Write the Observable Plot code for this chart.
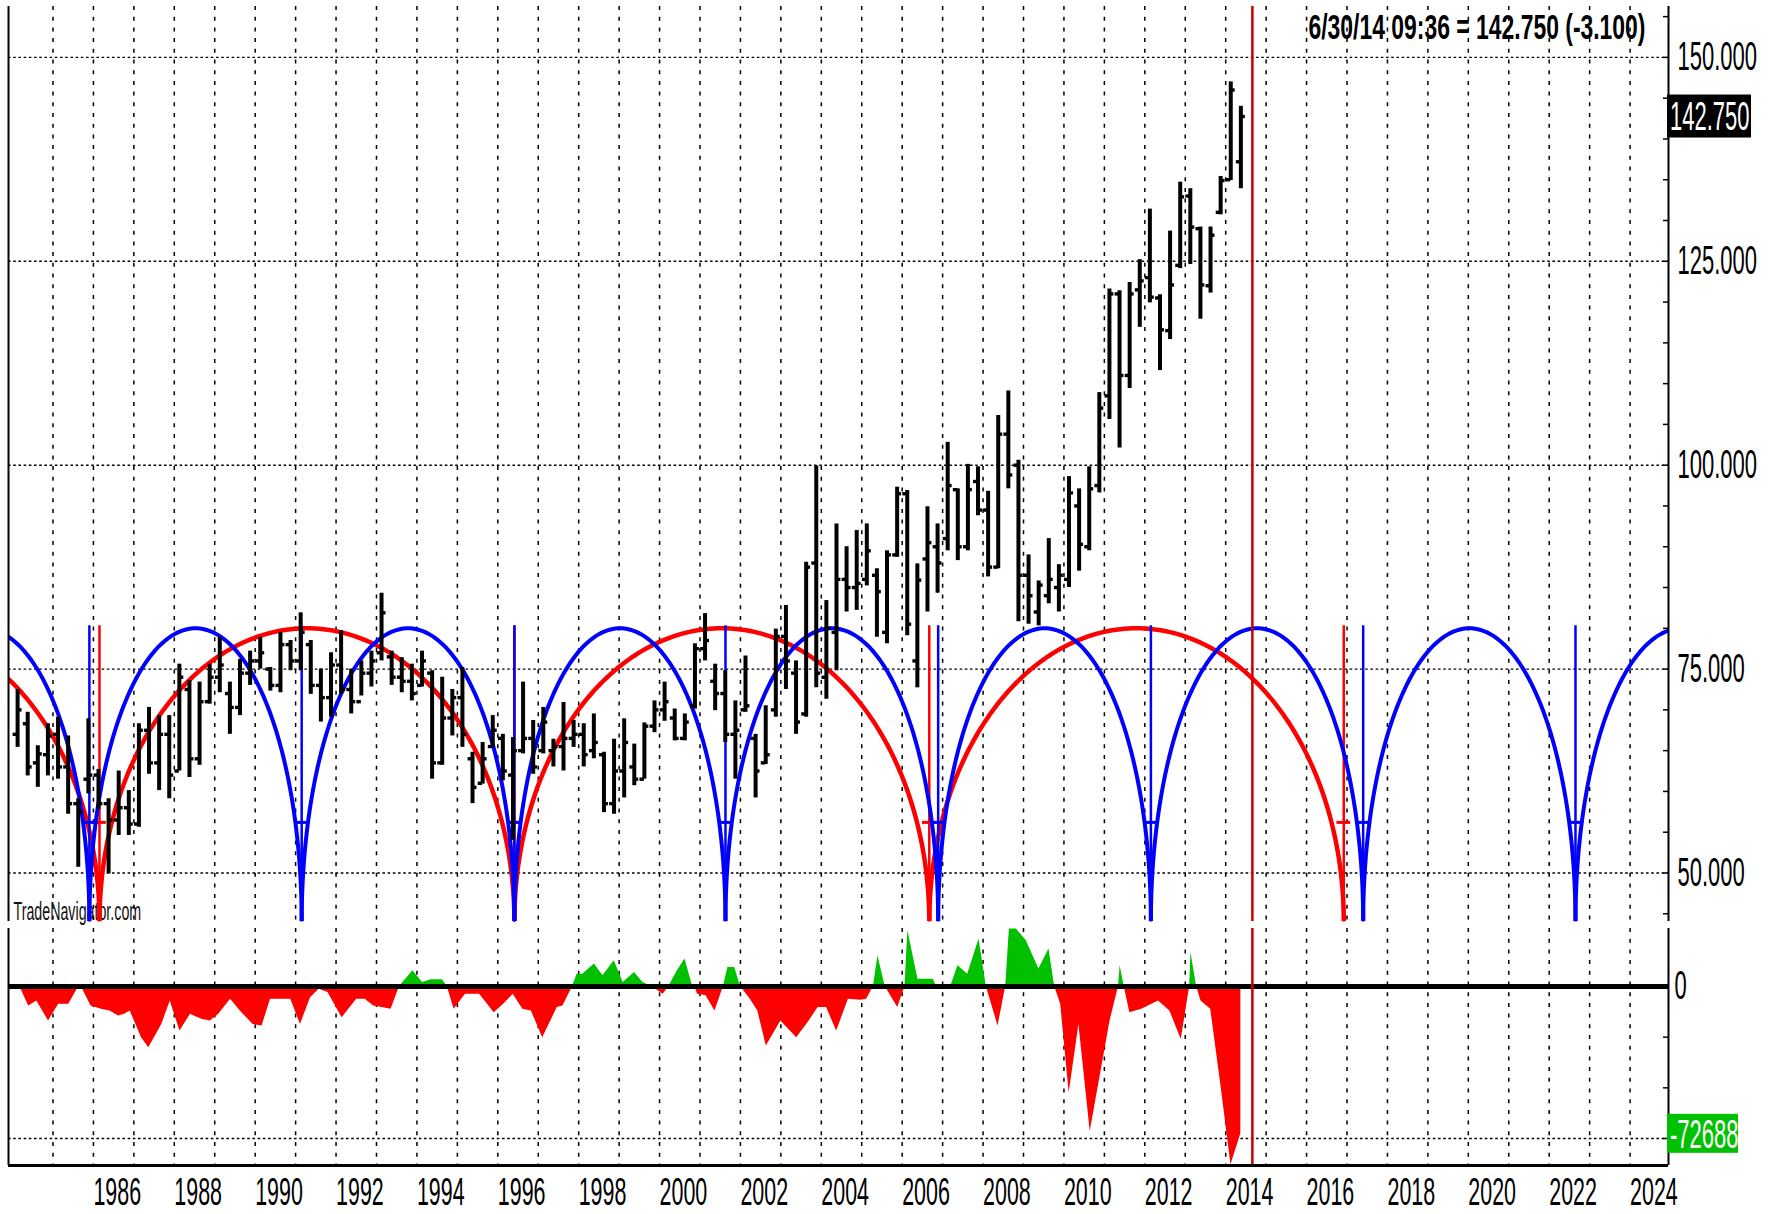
<!DOCTYPE html>
<html><head><meta charset="utf-8">
<script src="https://cdn.jsdelivr.net/npm/d3@7"></script>
<script src="https://cdn.jsdelivr.net/npm/@observablehq/plot@0.6"></script>
<style>
html,body{margin:0;padding:0;background:#fff;}
#wrap{position:relative;width:1773px;height:1214px;overflow:hidden;background:#fff;}
#top,#bot{position:absolute;left:0;}
#top{top:0;}
#bot{top:925px;}
svg{display:block;}
</style></head>
<body><div id="wrap"><div id="top"></div><div id="bot"></div></div>
<script>
// ---------------- DATA ----------------
const firstYear = 1984; // first quarterly bar = 1984 Q1
const opens = [
67.0,68.3,63.5,64.5,67.0,63.0,58.5,61.5,62.0,58.5,
56.5,58.0,56.0,67.5,63.5,67.0,62.5,72.5,64.0,71.0,
74.0,72.0,70.3,74.5,76.0,75.0,73.0,78.0,76.0,78.0,
73.0,71.5,75.5,72.5,71.0,74.5,77.0,76.5,74.0,73.5,
73.0,74.5,63.5,69.0,71.5,64.0,61.0,65.5,66.5,62.0,
65.0,66.5,65.0,65.0,65.5,66.5,67.0,65.0,64.5,58.5,
62.5,63.0,61.5,68.0,70.0,69.0,66.5,70.5,77.5,73.5,
72.0,67.0,70.0,66.5,63.5,70.0,79.0,74.5,69.5,88.0,
74.0,79.5,86.0,85.0,86.0,86.5,79.5,89.0,96.5,76.0,
88.5,90.0,91.0,97.0,90.0,98.0,94.5,87.5,103.8,100.0,
86.5,82.0,84.0,85.0,86.0,95.0,90.0,97.5,108.5,121.0,
111.0,121.5,123.0,120.5,116.5,124.5,133.0,129.0,122.0,131.0,
135.0,137.2];
const highs = [
72.5,69.7,65.6,68.3,69.1,66.8,59.1,68.9,62.7,59.1,
62.5,60.1,68.3,70.3,69.3,69.3,75.6,73.6,73.4,75.6,
78.9,73.4,76.2,77.2,78.9,75.2,79.5,78.5,81.9,78.5,
75.0,77.0,79.7,75.0,76.0,77.2,84.3,77.2,76.4,75.6,
77.2,74.8,74.0,72.5,75.2,64.8,66.0,69.3,67.0,66.6,
73.4,68.7,70.3,66.4,70.9,68.7,68.3,69.5,64.8,66.4,
68.9,65.8,68.4,71.1,73.4,70.1,69.5,78.1,81.8,75.6,
74.8,71.1,76.6,67.0,70.5,79.9,82.8,76.0,88.1,99.9,
83.4,92.8,90.0,92.0,92.8,87.3,89.5,97.3,96.9,87.9,
94.9,92.8,102.8,97.1,100.1,99.8,96.8,106.1,109.1,100.6,
89.0,85.8,91.0,87.8,98.6,97.1,99.8,108.9,121.6,121.4,
122.4,125.2,131.4,120.9,128.7,134.7,133.9,129.2,129.2,135.4,
147.0,144.0];
const lows = [
65.4,61.9,60.5,61.9,61.5,57.2,50.7,59.7,57.8,49.9,
54.6,54.6,55.6,62.1,60.1,59.1,62.5,61.7,63.2,70.7,
72.1,67.0,69.3,73.0,75.0,72.3,72.1,74.8,74.8,71.9,
68.5,69.1,71.9,69.5,71.7,72.8,76.0,73.0,72.1,71.1,
72.8,61.5,63.2,66.8,65.4,58.5,60.9,65.4,61.3,54.0,
64.6,62.1,64.6,63.0,62.5,65.4,63.0,64.0,57.4,57.2,
59.2,60.7,61.5,67.2,68.6,66.2,66.2,70.1,76.0,69.9,
66.0,61.5,69.7,59.2,63.3,69.1,72.5,67.0,69.1,72.7,
71.3,74.8,82.0,82.2,85.2,78.9,78.1,88.7,79.1,72.7,
82.0,84.3,89.5,88.3,89.5,93.8,86.3,87.3,97.1,80.8,
80.5,80.3,83.0,82.0,85.0,87.0,89.5,96.6,105.6,102.1,
109.4,116.9,119.9,111.6,115.4,124.1,124.6,117.9,121.1,130.7,
134.9,133.9];
const closes = [
70.0,63.0,64.6,66.8,63.0,58.5,57.5,62.0,58.5,56.5,
58.0,56.0,67.5,63.5,67.0,62.0,74.0,64.0,71.0,74.0,
75.5,70.3,74.5,76.0,77.0,73.0,78.0,76.0,79.5,73.0,
71.5,75.5,72.5,71.0,74.5,76.0,81.9,74.0,73.5,72.0,
76.0,63.5,69.0,71.5,67.0,60.5,64.0,67.5,62.5,65.0,
66.5,63.0,68.5,65.5,66.5,67.0,64.5,66.0,58.5,62.5,
66.0,61.5,68.0,70.0,71.0,66.5,68.5,77.5,78.5,72.0,
67.0,67.5,70.5,62.5,64.5,79.0,76.0,68.5,87.5,74.5,
80.0,86.0,85.0,85.5,89.5,84.5,89.0,96.5,80.5,85.9,
90.5,88.0,97.5,90.0,97.0,94.5,87.5,103.8,98.8,86.5,
84.0,85.3,86.0,86.5,96.6,90.3,97.1,107.0,121.0,111.0,
121.0,122.6,120.6,116.6,122.1,132.9,129.2,122.1,128.2,134.9,
146.0,142.75];

// cycle troughs (decimal years) and arc levels
const blueTroughs = [1980.65,1985.90,1991.15,1996.41,2001.63,2006.89,2012.15,2017.40,2022.65,2027.90];
const redTroughs  = [1975.89,1986.15,1996.41,2006.67,2016.92];
const arcPeak = 80;
const arcFloor = 44;
const markerTop = 80.3;
const markerBar = 56.2;

// lower-panel oscillator (decimal year, value)
const oscDates = [
1983.93,1984.21,1984.40,1984.60,1984.89,1985.14,1985.39,1985.60,1985.70,1985.94,
1986.20,1986.41,1986.62,1986.77,1986.91,1987.19,1987.37,1987.69,1987.90,1988.14,
1988.40,1988.68,1988.89,1989.10,1989.39,1989.67,1989.95,1990.17,1990.38,1990.88,
1991.12,1991.37,1991.58,1991.80,1992.15,1992.51,1992.72,1992.93,1993.14,1993.36,
1993.57,1993.90,1994.14,1994.35,1994.63,1994.75,1994.92,1995.20,1995.55,1995.91,
1996.19,1996.38,1996.62,1996.83,1997.11,1997.47,1997.61,1997.85,1997.96,1998.10,
1998.39,1998.60,1998.88,1999.10,1999.38,1999.59,1999.81,2000.09,2000.23,2000.44,
2000.63,2000.80,2000.87,2000.94,2001.15,2001.37,2001.58,2001.69,2001.86,2002.00,
2002.22,2002.43,2002.64,2003.00,2003.39,2003.70,2003.92,2004.13,2004.38,2004.67,
2004.98,2005.12,2005.29,2005.40,2005.58,2005.89,2006.07,2006.14,2006.39,2006.77,
2006.85,2007.20,2007.38,2007.62,2007.90,2008.08,2008.37,2008.56,2008.65,2008.82,
2009.07,2009.38,2009.63,2009.77,2009.92,2010.13,2010.37,2010.65,2011.14,2011.35,
2011.39,2011.49,2011.63,2011.92,2012.34,2012.62,2012.90,2013.11,2013.14,2013.28,
2013.39,2013.63,2013.89,2014.13,2014.375];
const oscValues = [
0,-1300,-9600,-7100,-17000,-8800,-8800,-1300,0,-9600,
-11200,-12100,-14500,-13700,-12100,-25300,-30200,-18700,-7100,-22000,
-13700,-16200,-17000,-13700,-6300,-12900,-18700,-19500,-6300,-6300,
-18700,-5500,-1300,-3000,-15400,-6300,-6300,-9600,-10400,-11200,
0,7800,2000,3300,3300,0,-11200,-3800,-3800,-12900,
-7900,-3800,-11200,-12100,-25300,-10400,-9600,0,6100,6100,
11100,5300,12700,2000,6900,2000,0,-3800,0,7800,
13600,1200,0,-3800,-4600,-12100,0,9400,9400,0,
-5500,-12100,-29400,-17000,-25300,-17000,-10400,-10400,-22000,-6300,
-6800,-6300,0,15200,0,-10400,0,27600,3600,3600,
0,0,10200,6100,23500,0,-19500,0,28400,28400,
22600,8600,18500,0,-8800,-52500,-18700,-71500,-17000,0,
10200,0,-12900,-11200,-7100,-12100,-26100,0,16900,0,
-7100,-11200,-50100,-88000,-72688];

const priceGrid = [50,75,100,125,150];
const priceTicks = [45,50,55,60,65,70,75,80,85,90,95,100,105,110,115,120,125,130,135,140,145,150,155];
const oscGrid = [-75000];
const oscTicks = [0,-25000,-50000,-75000];
const gridYears = [1985,1986,1987,1988,1989,1990,1991,1992,1993,1994,1995,1996,1997,1998,1999,2000,2001,2002,2003,2004,2005,2006,2007,2008,2009,2010,2011,2012,2013,2014,2015,2016,2017,2018,2019,2020,2021,2022,2023,2024];
const yearLabels = [1986,1988,1990,1992,1994,1996,1998,2000,2002,2004,2006,2008,2010,2012,2014,2016,2018,2020,2022,2024];

const cursorDate = 2014.66;
const lastPrice = 142.75;
const lastOsc = -72688;
const titleText = "6/30/14 09:36 = 142.750 (-3.100)";
const watermark = "TradeNavigator.com";

// ---------------- DERIVED TABLES ----------------
const bars = opens.map((o, i) => ({
  t: firstYear + Math.floor(i / 4) + (i % 4) * 0.25 + 0.125,
  open: o, high: highs[i], low: lows[i], close: closes[i]
}));
const osc = oscDates.map((t, i) => ({t, v: oscValues[i]}));

function arcs(troughs) {
  const pts = [];
  for (let k = 0; k + 1 < troughs.length; k++) {
    const a = troughs[k], b = troughs[k + 1], mid = (a + b) / 2, half = (b - a) / 2;
    for (let j = 0; j <= 160; j++) {
      const th = Math.PI * j / 160;
      pts.push({arc: k, t: mid - half * Math.cos(th), v: arcFloor + (arcPeak - arcFloor) * Math.sin(th)});
    }
  }
  return pts;
}
const blueArc = arcs(blueTroughs);
const redArc = arcs(redTroughs);

const xDomain = [1983.9, 2024.95];
const inView = t => t >= xDomain[0] && t <= xDomain[1];
const blueMarks = blueTroughs.filter(inView);
const redMarks = redTroughs.filter(inView);

const W = 1773;
const FONT = "'Liberation Sans', Arial, Helvetica, sans-serif";
const vGrid = {stroke: "#000", strokeWidth: 1.5, strokeDasharray: "4,6.7"};
const hGrid = {stroke: "#000", strokeWidth: 1.4, strokeDasharray: "2.6,2.6"};

// ---------------- TOP PANEL ----------------
const topChart = Plot.plot({
  width: W, height: 925,
  marginLeft: 8, marginRight: 105, marginTop: 6, marginBottom: 4,
  style: {fontFamily: FONT, background: "#fff", overflow: "visible"},
  x: {domain: xDomain, axis: null, label: null},
  y: {domain: [44.05, 156.24], label: null},
  marks: [
    Plot.ruleY(priceGrid, hGrid),
    Plot.ruleX(gridYears, vGrid),
    Plot.text([watermark], {frameAnchor: "bottom-left", dx: 5, dy: -2, textAnchor: "start", lineAnchor: "bottom", fontSize: 25, fill: "#111"}),
    Plot.text([titleText], {frameAnchor: "top-right", dx: -23, dy: 8, textAnchor: "end", lineAnchor: "top", fontSize: 35, fontWeight: "bold", fill: "#000"}),
    Plot.line(redArc, {x: "t", y: "v", z: "arc", stroke: "#ff0000", strokeWidth: 4.5, clip: true}),
    Plot.ruleX(redMarks, {y1: arcFloor, y2: markerTop, stroke: "#ff0000", strokeWidth: 2.5}),
    Plot.ruleY(redMarks, {x1: d => d - 0.17, x2: d => d + 0.17, y: markerBar, stroke: "#ff0000", strokeWidth: 3}),
    Plot.line(blueArc, {x: "t", y: "v", z: "arc", stroke: "#0000ff", strokeWidth: 4, clip: true}),
    Plot.ruleX(blueMarks, {y1: arcFloor, y2: markerTop, stroke: "#0000ff", strokeWidth: 2.5}),
    Plot.ruleY(blueMarks, {x1: d => d - 0.17, x2: d => d + 0.17, y: markerBar, stroke: "#0000ff", strokeWidth: 3}),
    Plot.ruleX(bars, {x: "t", y1: "low", y2: "high", stroke: "#000", strokeWidth: 4}),
    Plot.ruleY(bars, {x1: d => d.t - 0.11, x2: "t", y: "open", stroke: "#000", strokeWidth: 3.4}),
    Plot.ruleY(bars, {x1: "t", x2: d => d.t + 0.11, y: "close", stroke: "#000", strokeWidth: 3.4}),
    Plot.ruleX([cursorDate], {stroke: "#cc0000", strokeWidth: 2.5}),
    Plot.ruleX([xDomain[0]], {stroke: "#000", strokeWidth: 2}),
    Plot.ruleX([xDomain[1]], {stroke: "#000", strokeWidth: 2}),
    Plot.ruleY(priceTicks, {x1: xDomain[1], x2: xDomain[1], insetRight: 5, stroke: "#000", strokeWidth: 1.5}),
    Plot.axisY({anchor: "right", ticks: priceGrid, tickSize: 0, tickPadding: 9, fontSize: 40, tickFormat: d3.format(".3f"), label: null})
  ]
});

// ---------------- LOWER PANEL ----------------
const botChart = Plot.plot({
  width: W, height: 289,
  marginLeft: 8, marginRight: 105, marginTop: 3, marginBottom: 49,
  style: {fontFamily: FONT, background: "#fff", overflow: "visible"},
  x: {domain: xDomain, label: null},
  y: {domain: [-88320, 28620], label: null},
  marks: [
    Plot.ruleY(oscGrid, hGrid),
    Plot.ruleX(gridYears, vGrid),
    Plot.areaY(osc, {x: "t", y1: 0, y2: d => Math.min(0, d.v), fill: "#ff0000"}),
    Plot.areaY(osc, {x: "t", y1: 0, y2: d => Math.max(0, d.v), fill: "#00c000"}),
    Plot.ruleY([0], {stroke: "#000", strokeWidth: 5}),
    Plot.ruleX([cursorDate], {stroke: "#cc0000", strokeWidth: 2.5}),
    Plot.ruleX([xDomain[0]], {stroke: "#000", strokeWidth: 2}),
    Plot.ruleX([xDomain[1]], {stroke: "#000", strokeWidth: 2}),
    Plot.ruleY([-88320], {stroke: "#000", strokeWidth: 3}),
    Plot.ruleY(oscTicks, {x1: xDomain[1], x2: xDomain[1], insetRight: 5, stroke: "#000", strokeWidth: 1.5}),
    Plot.axisY({anchor: "right", ticks: [0], tickSize: 0, tickPadding: 6, fontSize: 40, tickFormat: d => String(d), label: null}),
    Plot.axisX({anchor: "bottom", ticks: yearLabels, tickSize: 0, tickPadding: 12, fontSize: 39, textAnchor: "start", tickFormat: d => String(d), label: null})
  ]
});

document.getElementById("top").appendChild(topChart);
document.getElementById("bot").appendChild(botChart);

// value boxes on the right axis, positioned with Plot's scales
function valueBox(chart, value, label, bg, w, h) {
  const x0 = chart.scale("x").range[1];
  const y = chart.scale("y").apply(value);
  const g = d3.select(chart).append("g");
  g.append("rect").attr("x", x0 - 1).attr("y", y - h / 2).attr("width", w).attr("height", h).attr("fill", bg);
  g.append("text").attr("x", x0 + 2).attr("y", y).attr("dy", "0.36em")
    .attr("text-anchor", "start")
    .attr("fill", "#fff").attr("font-size", 40).attr("font-family", FONT).text(label);
}
valueBox(topChart, lastPrice, d3.format(".3f")(lastPrice), "#000", 84, 43);
valueBox(botChart, lastOsc, String(lastOsc), "#00c000", 71, 39);

// condensed lettering like the original (narrow font): scale each text horizontally about its anchor
function condense(svg) {
  svg.querySelectorAll("text").forEach(t => {
    const s = t.textContent;
    if (!s) return;
    const bb = t.getBBox();
    if (!(bb.width > 0)) return;
    const anchor = getComputedStyle(t).textAnchor;
    const ax = anchor === "end" ? bb.x + bb.width : anchor === "middle" ? bb.x + bb.width / 2 : bb.x;
    const r = s.includes("=") ? 0.655 : s.includes("Navig") ? 0.57 : 0.55;
    const prev = t.getAttribute("transform") || "";
    t.setAttribute("transform", `${prev} translate(${ax.toFixed(2)},0) scale(${r},1) translate(${(-ax).toFixed(2)},0)`.trim());
  });
}
condense(topChart);
condense(botChart);
</script>
</body></html>
